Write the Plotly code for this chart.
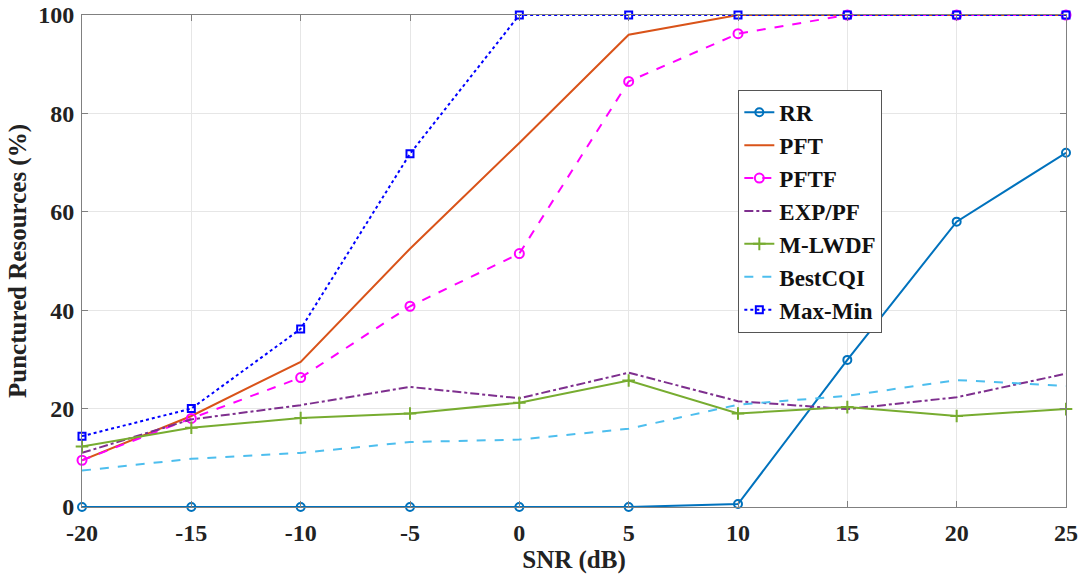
import plotly.graph_objects as go

snr = [-20, -15, -10, -5, 0, 5, 10, 15, 20, 25]
rr = [0, 0, 0, 0, 0, 0, 0.6, 29.9, 58, 72]
pft = [9.5, 18.5, 29.5, 52.5, 74, 96, 100, 100, 100, 100]
pftf = [9.5, 18, 26.3, 40.8, 51.5, 86.5, 96.2, 100, 100, 100]
exp_pf = [11, 17.8, 20.7, 24.4, 22.1, 27.3, 21.5, 19.9, 22.3, 27.1]
mlwdf = [12.3, 16.1, 18.1, 19.0, 21.2, 25.7, 19.0, 20.3, 18.5, 19.9]
bestcqi = [7.4, 9.8, 11.0, 13.2, 13.7, 15.9, 20.8, 22.6, 25.8, 24.6]
maxmin = [14.4, 20, 36.2, 71.8, 100, 100, 100, 100, 100, 100]

series = [
    ("RR", rr, "#0072BD", "solid", "circle-open", 8),
    ("PFT", pft, "#D95319", "solid", None, 0),
    ("PFTF", pftf, "#FF00FF", "dash", "circle-open", 9),
    ("EXP/PF", exp_pf, "#7E2F8E", "dashdot", None, 0),
    ("M-LWDF", mlwdf, "#77AC30", "solid", "cross-thin-open", 9),
    ("BestCQI", bestcqi, "#4DBEEE", "dash", None, 0),
    ("Max-Min", maxmin, "#0000FF", "dot", "square-open", 7),
]

fig = go.Figure()
for name, vals, color, dash, sym, size in series:
    if sym:
        fig.add_trace(go.Scatter(
            x=snr, y=vals, name=name, mode="lines+markers",
            line=dict(color=color, width=2, dash=dash),
            marker=dict(symbol=sym, size=size, color=color, line=dict(width=2, color=color)),
            cliponaxis=False,
        ))
    else:
        fig.add_trace(go.Scatter(
            x=snr, y=vals, name=name, mode="lines",
            line=dict(color=color, width=2, dash=dash),
            cliponaxis=False,
        ))

ff = "Liberation Serif, Times New Roman, serif"
tickf = dict(family=ff, size=24, color="#222222", weight="bold")
titlef = dict(family=ff, size=25, color="#222222", weight="bold")
axis_common = dict(
    showline=True, linecolor="#808080", linewidth=1, mirror="ticks",
    ticks="inside", ticklen=6, tickcolor="#808080",
    showgrid=True, gridcolor="#e6e6e6", gridwidth=1, zeroline=False,
    tickfont=tickf, automargin=False,
)

fig.update_layout(
    width=1090, height=579,
    margin=dict(l=82, r=24, t=15, b=72),
    paper_bgcolor="white", plot_bgcolor="white",
    font=tickf,
    xaxis=dict(range=[-20, 25], tickvals=snr, ticktext=[str(v) for v in snr],
               ticklabelstandoff=4,
               title=dict(text="SNR (dB)", font=titlef, standoff=4),
               **axis_common),
    yaxis=dict(range=[0, 100], tickvals=[0, 20, 40, 60, 80, 100],
               ticklabelstandoff=2,
               title=dict(text="Punctured Resources (%)", font=titlef, standoff=4),
               **axis_common),
    legend=dict(
        x=0.667, y=0.848, xanchor="left", yanchor="top",
        bgcolor="white", bordercolor="#555555", borderwidth=1,
        font=dict(family=ff, size=23, color="#111111", weight="bold"),
        tracegroupgap=0, itemwidth=30,
    ),
)

fig.write_html("out.html")
